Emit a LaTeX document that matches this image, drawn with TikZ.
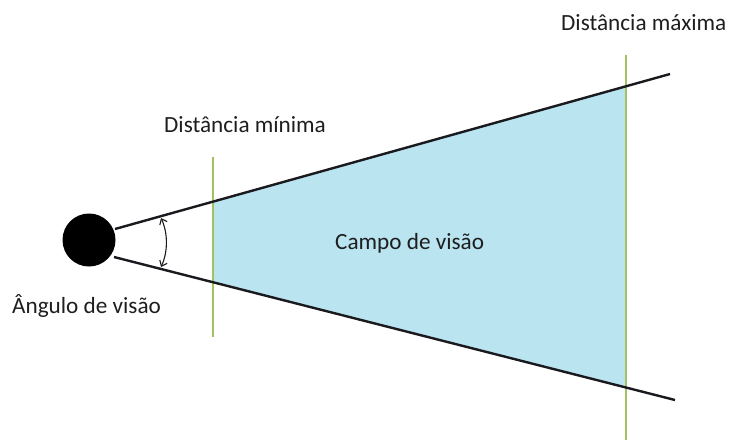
\documentclass[tikz,border=0pt]{standalone}
\usepackage{fontspec}
\setmainfont{Carlito}
\usetikzlibrary{arrows.meta}
\definecolor{fov}{RGB}{185,228,240}
\definecolor{limitg}{RGB}{160,195,95}
\definecolor{rayc}{RGB}{25,25,30}
\definecolor{txt}{RGB}{30,30,30}
\begin{document}
\begin{tikzpicture}[x=1pt,y=-1pt,
  lbl/.style={font=\fontsize{23.2}{27}\selectfont, text=txt, inner sep=0pt, anchor=base west},
  ray/.style={draw=rayc, line width=2.4pt},
  limitline/.style={draw=limitg, line width=2pt},
  eyeball/.style={circle, fill=black, minimum size=53pt, inner sep=0pt}]
\useasboundingbox (0,0) rectangle (736,440);
% coordinates
\coordinate (ua) at (115,229);
\coordinate (ub) at (670,74);
\coordinate (la) at (114,257);
\coordinate (lb) at (675,400);
\coordinate (p1) at (213,201.6);
\coordinate (p2) at (626,86.3);
\coordinate (p3) at (626,387.5);
\coordinate (p4) at (213,282.2);
\coordinate (mint) at (213,157);
\coordinate (minb) at (213,337);
\coordinate (maxt) at (626,55);
\coordinate (maxb) at (626,440);
\coordinate (arct) at (161,218);
\coordinate (arcb) at (161,267);
% field of view
\fill[fov] (p1) -- (p2) -- (p3) -- (p4) -- cycle;
% limit lines
\draw[limitline] (mint) -- (minb);
\draw[limitline] (maxt) -- (maxb);
% rays
\draw[ray] (ua) -- (ub);
\draw[ray] (la) -- (lb);
% eye
\node[eyeball] (eye) at (89,240) {};
% angle arc
\draw[rayc, line width=1.1pt, {Straight Barb[length=5pt,width=8pt]}-{Straight Barb[length=5pt,width=8pt]}]
  (arct) .. controls (168,233) and (168,252) .. (arcb);
% labels
\node[lbl] (dmin) at (164,132) {Distância mínima};
\node[lbl] (dmax) at (561,30) {Distância máxima};
\node[lbl] (ang) at (12,313) {Ângulo de visão};
\node[lbl] (campo) at (335,249) {Campo de visão};
\end{tikzpicture}
\end{document}
